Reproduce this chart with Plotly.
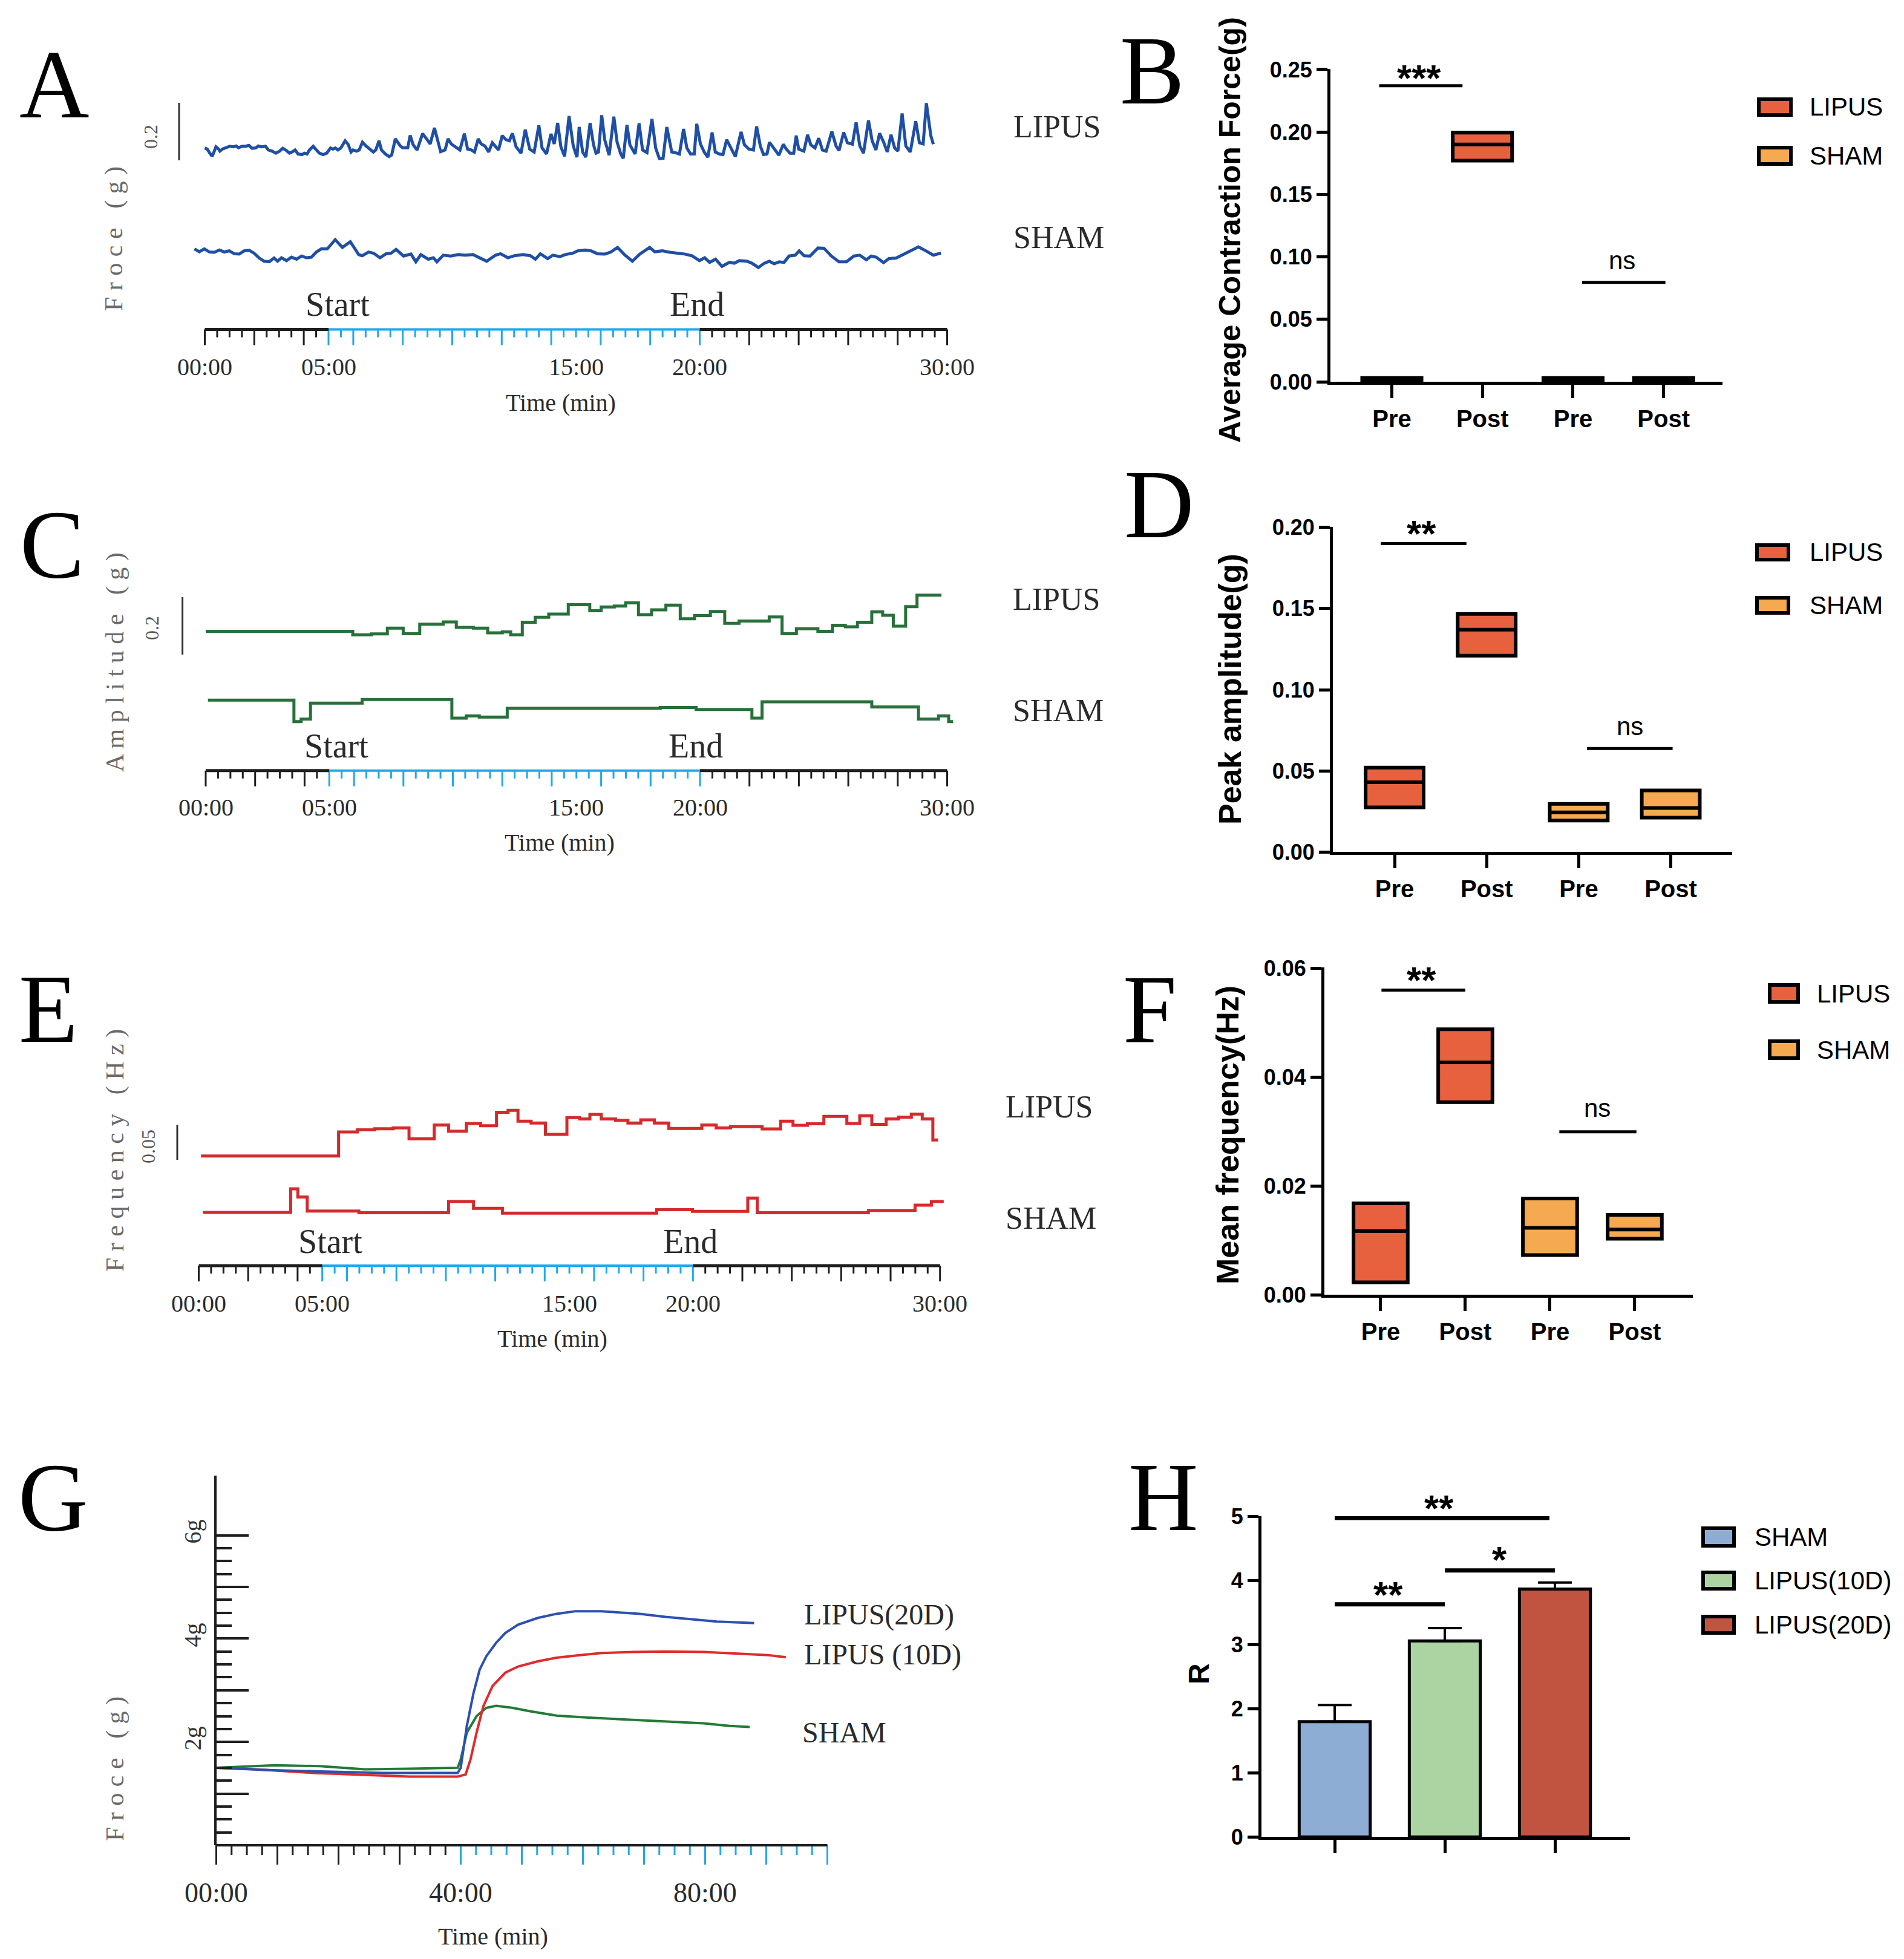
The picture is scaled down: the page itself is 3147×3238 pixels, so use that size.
import numpy as np
import plotly.graph_objects as go

W, H = 3147, 3238
SERIF = "Liberation Serif"
SANS = "Liberation Sans"
INK = "#1e1e1e"
GREY = "#6a6a6a"
SKY = "#1ea8ee"

# ---------------- data ----------------
# A: raw force traces, time in min, force in g (relative to each trace's resting level)
a_lipus_t = [0.00, 0.10, 0.20, 0.30, 0.37, 0.45, 0.56, 0.61, 0.71, 0.86,
             1.01, 1.16, 1.26, 1.36, 1.51, 1.66, 1.78, 1.91, 2.06, 2.16,
             2.29, 2.45, 2.57, 2.72, 2.87, 3.02, 3.15, 3.27, 3.42, 3.52,
             3.65, 3.77, 3.93, 4.03, 4.13, 4.23, 4.38, 4.48, 4.63, 4.78,
             4.93, 5.08, 5.18, 5.28, 5.38, 5.50, 5.67, 5.79, 5.91, 5.99,
             6.14, 6.24, 6.37, 6.49, 6.69, 6.81, 6.91, 7.04, 7.14, 7.30,
             7.45, 7.55, 7.70, 7.82, 7.90, 8.00, 8.20, 8.30, 8.42, 8.58,
             8.68, 8.80, 8.96, 9.11, 9.28, 9.41, 9.53, 9.71, 9.83, 9.96,
             10.11, 10.31, 10.49, 10.62, 10.77, 10.90, 11.05, 11.17, 11.32, 11.47,
             11.62, 11.72, 11.87, 12.02, 12.17, 12.31, 12.43, 12.58, 12.78, 12.95,
             13.13, 13.31, 13.50, 13.63, 13.81, 13.99, 14.12, 14.26, 14.39, 14.54,
             14.72, 14.89, 15.04,
             15.13, 15.27, 15.40, 15.57, 15.71, 15.81, 15.91, 16.04, 16.16, 16.34,
             16.53, 16.66, 16.81, 16.91, 17.06, 17.18, 17.39, 17.55, 17.69, 17.87,
             18.07, 18.22, 18.37, 18.52, 18.67, 18.87, 19.08, 19.18, 19.35, 19.48,
             19.63, 19.78, 19.88, 20.03, 20.18, 20.33, 20.50, 20.63, 20.79, 20.94,
             21.09, 21.29, 21.44, 21.67, 21.81, 21.99, 22.17, 22.30, 22.45, 22.58,
             22.72, 22.82, 22.95, 23.05, 23.20, 23.38, 23.50, 23.65, 23.80, 23.90,
             24.00, 24.21, 24.36, 24.49, 24.66, 24.81, 24.96, 25.11, 25.34, 25.51,
             25.63, 25.82, 25.97, 26.17, 26.32, 26.47, 26.62, 26.82, 26.97, 27.12,
             27.27, 27.43, 27.58, 27.73, 27.88, 28.01, 28.18, 28.33, 28.51, 28.73,
             28.88, 29.03, 29.16, 29.34, 29.44]
a_lipus_g = [0.000, -0.004, -0.018, -0.029, -0.014, 0.004, -0.004, -0.011, -0.004, 0.000,
             0.006, 0.004, 0.007, 0.001, 0.006, 0.006, 0.009, -0.001, 0.000, 0.007,
             0.004, 0.006, -0.007, -0.011, -0.018, -0.011, -0.001, -0.007, -0.018, -0.014,
             -0.007, -0.021, -0.023, -0.018, -0.021, -0.007, 0.006, -0.004, -0.018, -0.023,
             -0.018, 0.000, -0.004, 0.000, -0.007, 0.000, 0.025, 0.013, -0.014, -0.007,
             -0.011, -0.007, 0.020, 0.009, -0.004, -0.014, -0.007, 0.025, -0.007, -0.021,
             -0.030, -0.025, 0.032, 0.014, 0.007, 0.001, 0.001, 0.044, 0.011, -0.007,
             0.021, 0.050, 0.032, 0.014, 0.070, 0.021, -0.013, -0.007, 0.032, 0.014,
             0.004, -0.007, 0.050, -0.004, -0.007, -0.014, 0.032, 0.014, 0.007, -0.014,
             0.018, 0.007, -0.007, 0.043, 0.029, 0.025, 0.051, 0.004, -0.018, 0.064,
             -0.004, -0.014, 0.079, 0.000, -0.021, 0.049, 0.014, 0.087, 0.004, -0.029,
             0.111, 0.007, -0.032,
             0.073, -0.014, -0.032, 0.087, 0.011, -0.018, -0.014, 0.114, 0.029, -0.025,
             0.109, 0.021, -0.021, -0.036, 0.080, 0.011, -0.021, 0.086, -0.007, -0.016,
             0.101, 0.000, -0.037, -0.036, 0.073, -0.014, -0.018, -0.021, 0.066, 0.000,
             -0.021, -0.021, 0.084, 0.014, -0.014, -0.032, 0.054, -0.014, -0.021, -0.023,
             0.029, -0.007, -0.030, 0.056, 0.011, -0.004, -0.007, 0.075, 0.007, -0.023,
             -0.021, 0.020, 0.004, -0.004, -0.025, 0.013, -0.004, -0.018, -0.018, 0.043,
             -0.004, -0.011, 0.046, 0.011, 0.000, 0.034, -0.007, -0.011, 0.057, 0.007,
             -0.009, 0.054, 0.018, 0.013, 0.089, 0.007, -0.018, 0.096, 0.025, -0.007,
             0.051, 0.021, -0.014, 0.046, 0.000, -0.011, 0.120, 0.007, -0.014, 0.093,
             0.018, 0.014, 0.156, 0.043, 0.013]
a_sham_t = [-0.42, -0.22, -0.02, 0.19, 0.39, 0.59, 0.79, 0.99, 1.19, 1.39,
            1.59, 1.79, 1.99, 2.20, 2.40, 2.60, 2.80, 2.94, 3.10, 3.30,
            3.50, 3.71, 3.91, 4.11, 4.31, 4.51, 4.71, 4.95, 5.27, 5.56,
            5.88, 6.22, 6.36, 6.62, 6.82, 7.08, 7.33, 7.53, 7.73, 8.03,
            8.33, 8.53, 8.73, 9.03, 9.24, 9.38, 9.64, 9.94, 10.24, 10.54,
            10.84, 11.15, 11.39, 11.75, 11.95, 12.25, 12.51, 12.86, 13.16, 13.36,
            13.56, 13.86, 14.06, 14.36, 14.56, 14.87, 15.07, 15.37, 15.61, 15.87,
            16.17, 16.41, 16.68, 16.98, 17.28, 17.58, 17.78, 17.98, 18.18, 18.49,
            18.79, 19.09, 19.39, 19.69, 19.99, 20.20, 20.40, 20.64, 20.90, 21.20,
            21.40, 21.60, 21.91, 22.11, 22.37, 22.61, 22.81, 23.01, 23.21, 23.41,
            23.61, 23.86, 24.02, 24.22, 24.46, 24.78, 25.02, 25.32, 25.63, 25.93,
            26.23, 26.47, 26.73, 26.93, 27.13, 27.43, 27.64, 27.94, 28.24, 28.54,
            28.84, 29.14, 29.44, 29.75]
a_sham_g = [0.011, 0.001, 0.011, 0.000, -0.001, 0.007, 0.000, 0.004, -0.006, -0.007,
            0.004, 0.006, -0.004, -0.021, -0.032, -0.034, -0.021, -0.032, -0.020, -0.030,
            -0.018, -0.025, -0.014, -0.020, -0.018, 0.000, 0.011, 0.011, 0.043, 0.016,
            0.036, -0.009, -0.013, 0.000, -0.004, -0.020, -0.006, -0.004, 0.009, -0.014,
            -0.007, -0.034, -0.009, -0.025, -0.020, -0.034, -0.011, -0.014, -0.009, -0.011,
            -0.009, -0.021, -0.032, -0.011, -0.006, -0.020, -0.013, -0.009, -0.013, -0.025,
            -0.006, -0.023, -0.011, -0.016, -0.009, -0.004, 0.004, 0.007, 0.004, -0.006,
            -0.007, 0.000, 0.016, -0.011, -0.032, -0.007, 0.004, 0.016, 0.001, 0.004,
            -0.001, -0.004, -0.007, -0.013, -0.030, -0.020, -0.036, -0.025, -0.050, -0.036,
            -0.039, -0.030, -0.032, -0.039, -0.054, -0.039, -0.032, -0.041, -0.034, -0.036,
            -0.014, -0.011, 0.004, -0.013, -0.014, 0.014, 0.013, -0.014, -0.034, -0.034,
            -0.014, -0.011, -0.027, -0.014, -0.018, -0.037, -0.023, -0.021, -0.007, 0.007,
            0.018, 0.004, -0.011, -0.004]

# C: peak amplitude, step traces (start of each step, min / g)
c_lipus_t = [0.00, 5.95, 6.71, 7.35, 7.99, 8.66, 9.61, 10.14, 10.83, 11.41,
             12.00, 12.34, 12.81, 13.33, 13.88, 14.67, 15.54, 16.00, 16.53, 16.99,
             17.51, 18.04, 18.62, 19.20, 19.78, 20.42, 21.00, 21.58, 22.80, 23.32,
             23.90, 24.77, 25.36, 25.88, 26.37, 26.95, 27.39, 27.82, 28.32, 28.78, 29.77]
c_lipus_g = [0.000, -0.012, -0.009, 0.011, -0.008, 0.025, 0.033, 0.014, 0.011, -0.005,
             -0.002, -0.012, 0.032, 0.049, 0.060, 0.093, 0.072, 0.085, 0.088, 0.099,
             0.058, 0.075, 0.091, 0.044, 0.055, 0.069, 0.028, 0.036, 0.050, -0.008,
             0.009, 0.000, 0.021, 0.016, 0.032, 0.068, 0.056, 0.018, 0.086, 0.126, 0.126]
c_sham_t = [0.09, 3.57, 3.86, 4.24, 6.33, 9.96, 10.54, 11.07, 12.20, 18.39,
            19.84, 22.10, 22.51, 26.95, 28.84, 29.65, 30.06, 30.24]
c_sham_g = [0.000, -0.075, -0.066, -0.011, 0.002, -0.063, -0.055, -0.059, -0.028, -0.026,
            -0.033, -0.063, -0.006, -0.024, -0.066, -0.055, -0.075, -0.075]

# E: frequency, step traces (min / Hz)
e_lipus_t = [0.09, 5.66, 6.42, 7.12, 7.87, 8.51, 9.53, 10.11, 10.83, 11.41,
             12.05, 12.52, 12.92, 13.45, 14.03, 14.90, 15.42, 15.83, 16.29, 16.87,
             17.37, 17.89, 18.44, 19.02, 20.36, 20.94, 21.52, 22.80, 23.55, 24.05,
             24.63, 25.30, 26.23, 26.75, 27.24, 27.82, 28.32, 28.84, 29.28, 29.71, 29.92]
e_lipus_hz = [0.0000, 0.0342, 0.0373, 0.0388, 0.0400, 0.0246, 0.0442, 0.0354, 0.0462, 0.0431,
              0.0623, 0.0650, 0.0496, 0.0469, 0.0308, 0.0546, 0.0527, 0.0592, 0.0527, 0.0508,
              0.0469, 0.0515, 0.0469, 0.0392, 0.0442, 0.0400, 0.0419, 0.0385, 0.0496, 0.0438,
              0.0458, 0.0565, 0.0462, 0.0573, 0.0450, 0.0527, 0.0554, 0.0596, 0.0527, 0.0227, 0.0227]
e_sham_t = [0.17, 3.72, 4.01, 4.39, 6.48, 10.11, 11.12, 12.29, 18.53, 19.98,
            22.22, 22.60, 27.10, 28.99, 29.65, 30.15]
e_sham_hz = [0.0000, 0.0335, 0.0219, 0.0019, -0.0004, 0.0154, 0.0058, -0.0012, 0.0038, 0.0015,
             0.0204, -0.0004, 0.0027, 0.0104, 0.0154, 0.0154]

# G: tension curves (min / g)
g20_t = [0, 8.6, 17.0, 27.4, 39.5, 40.0, 41.0, 42.1, 43.1, 44.2, 45.8, 47.3, 49.4,
         52.6, 55.7, 58.8, 63.0, 66.2, 69.3, 73.5, 77.7, 81.9, 88.0]
g20_g = [1.50, 1.455, 1.43, 1.40, 1.40, 1.50, 2.31, 2.95, 3.40, 3.66, 3.92, 4.11, 4.27,
         4.40, 4.48, 4.53, 4.53, 4.51, 4.48, 4.42, 4.37, 4.33, 4.30]
g10_t = [0, 6.5, 15.9, 23.2, 31.6, 39.5, 40.8, 41.6, 42.6, 43.7, 45.2, 47.3, 49.4,
         52.6, 55.7, 58.8, 63.0, 68.3, 73.5, 79.8, 85.0, 90.3, 93.2]
g10_g = [1.50, 1.47, 1.40, 1.37, 1.33, 1.33, 1.37, 1.66, 2.18, 2.69, 3.08, 3.34, 3.46,
         3.56, 3.63, 3.67, 3.72, 3.74, 3.75, 3.74, 3.71, 3.68, 3.64]
gsh_t = [0, 6.5, 9.6, 17.0, 24.3, 31.6, 39.5, 40.0, 41.0, 42.6, 44.2, 45.8, 48.4,
         51.5, 55.7, 60.9, 67.2, 73.5, 79.8, 84.0, 87.3]
gsh_g = [1.50, 1.53, 1.55, 1.53, 1.47, 1.48, 1.50, 1.66, 2.18, 2.50, 2.66, 2.70, 2.66,
         2.59, 2.51, 2.47, 2.43, 2.40, 2.36, 2.31, 2.29]

# B, D, F: floating bars (min, mean, max) for Pre / Post
phases = ["Pre", "Post", "Pre", "Post"]
b_lipus = dict(low=[0.000, 0.177], mid=[0.0015, 0.190], high=[0.003, 0.1995])
b_sham = dict(low=[0.000, 0.000], mid=[0.0015, 0.0015], high=[0.003, 0.003])
d_lipus = dict(low=[0.0275, 0.121], mid=[0.043, 0.137], high=[0.052, 0.1467])
d_sham = dict(low=[0.0194, 0.0212], mid=[0.0245, 0.0272], high=[0.0297, 0.038])
f_lipus = dict(low=[0.0023, 0.0354], mid=[0.0117, 0.0427], high=[0.0168, 0.0488])
f_sham = dict(low=[0.0073, 0.0103], mid=[0.0123, 0.0120], high=[0.0177, 0.0147])

# H: R value, mean and SEM
h_groups = ["SHAM", "LIPUS(10D)", "LIPUS(20D)"]
h_mean = [1.80, 3.06, 3.87]
h_sem = [0.26, 0.20, 0.10]

time_ticks = [0, 5, 15, 20, 30]
time_text = ["00:00", "05:00", "15:00", "20:00", "30:00"]
g_ticks = [0, 40, 80]
g_text = ["00:00", "40:00", "80:00"]

LIPUS_C = "#e8613f"
SHAM_C = "#f5aa52"
H_COLORS = ["#8dadd5", "#acd4a2", "#c05440"]

# ---------------- helpers ----------------
def fx(x):
    return x / W

def fy(y):
    return 1 - y / H

def xname(i):
    return "xaxis" if i == 1 else f"xaxis{i}"

def yname(i):
    return "yaxis" if i == 1 else f"yaxis{i}"

def xid(i):
    return "x" if i == 1 else f"x{i}"

def yid(i):
    return "y" if i == 1 else f"y{i}"

fig = go.Figure()
layout = dict(width=W, height=H, margin=dict(l=0, r=0, t=0, b=0, pad=0, autoexpand=False),
              paper_bgcolor="white", plot_bgcolor="rgba(0,0,0,0)",
              showlegend=False, boxmode="overlay")
anns = []
shapes = []


def line(x, y, ax, color, width, shape="linear"):
    fig.add_trace(go.Scatter(x=x, y=y, mode="lines", xaxis=xid(ax), yaxis=yid(ax),
                             line=dict(color=color, width=width, shape=shape),
                             hoverinfo="skip"))


def text(s, x, y, size, angle=0, anchor="center", color=INK, family=SERIF,
         weight="normal", xref="paper"):
    anns.append(dict(text=s, x=fx(x) if xref == "paper" else x, y=fy(y),
                     xref=xref, yref="paper", showarrow=False, textangle=angle,
                     xanchor=anchor, yanchor="middle",
                     font=dict(family=family, size=size, color=color, weight=weight)))


def ruler_axes(rx, xd, xr, line_px):
    layout[xname(rx)] = dict(domain=xd, range=xr, anchor=yid(rx), visible=False, automargin=False)
    layout[yname(rx)] = dict(domain=[fy(line_px + 40), fy(line_px - 10)], range=[-40, 10],
                             anchor=xid(rx), visible=False, automargin=False)


def ruler(rx, ticks, major, blue, parts, major_len, minor_len):
    for color, sel in ((INK, ~blue), (SKY, blue)):
        xs, ys = [], []
        for t, m in zip(ticks[sel], major[sel]):
            xs += [t, t, None]
            ys += [0, -(major_len if m else minor_len), None]
        line(xs, ys, rx, color, 3)
    for t0, t1, color, w in parts:
        line([t0, t1], [0, 0], rx, color, w)


# ---------------- left: A, C, E ----------------
left = {
    "A": dict(ax=1, rx=2, x0=338.5, ppm=40.9, base=244.6, unit=475.0, top=140, bot=480, line=544.6),
    "C": dict(ax=3, rx=4, x0=340.0, ppm=40.85, base=1043.6, unit=475.0, top=930, bot=1230, line=1273.8),
    "E": dict(ax=5, rx=6, x0=328.5, ppm=40.84, base=1910.7, unit=1160.0, top=1780, bot=2050, line=2092.0),
}
T_LO, T_HI = -1.5, 31.0
for p in left.values():
    xd = [fx(p["x0"] + T_LO * p["ppm"]), fx(p["x0"] + T_HI * p["ppm"])]
    layout[xname(p["ax"])] = dict(domain=xd, range=[T_LO, T_HI], anchor=yid(p["ax"]),
                                  visible=False, automargin=False)
    layout[yname(p["ax"])] = dict(domain=[fy(p["bot"]), fy(p["top"])],
                                  range=[(p["base"] - p["bot"]) / p["unit"],
                                         (p["base"] - p["top"]) / p["unit"]],
                                  anchor=xid(p["ax"]), visible=False, automargin=False)
    ruler_axes(p["rx"], xd, [T_LO, T_HI], p["line"])
    tk = np.arange(0, 30.001, 0.5)
    major = (tk % 2 == 0) | (tk == 5) | (tk == 20)
    blue = (tk >= 5) & (tk <= 20)
    ruler(p["rx"], tk, major, blue, [(0, 5, INK, 5), (5, 20, SKY, 4), (20, 30, INK, 5)], 26, 13)

# traces (SHAM trace resting level sits below the LIPUS one)
A_SHAM_LEVEL, C_SHAM_LEVEL, E_SHAM_LEVEL = -0.362, -0.239, -0.0804
line(a_lipus_t, a_lipus_g, 1, "#1f4fa5", 5)
line(a_sham_t, [v + A_SHAM_LEVEL for v in a_sham_g], 1, "#1f4fa5", 5)
line(c_lipus_t, c_lipus_g, 3, "#27703a", 5, "hv")
line(c_sham_t, [v + C_SHAM_LEVEL for v in c_sham_g], 3, "#27703a", 5, "hv")
line(e_lipus_t, e_lipus_hz, 5, "#d42a2c", 5, "hv")
line(e_sham_t, [v + E_SHAM_LEVEL for v in e_sham_hz], 5, "#d42a2c", 5, "hv")

# scale bars: 0.2 g, 0.2 g, 0.05 Hz
line([-1.04, -1.04], [-0.043, -0.043 + 0.2], 1, "#333333", 3)
line([-0.94, -0.94], [-0.081, -0.081 + 0.2], 3, "#333333", 3)
line([-0.87, -0.87], [-0.0054, -0.0054 + 0.05], 5, "#333333", 3)

left_text = [
    (2, 607, (927, 665), (558, 503), (1152, 503), (1673, 210), (1673, 392),
     "F r o c e \u00a0 ( g )", (188, 395), "0.2", (249, 226)),
    (4, 1334, (925, 1393), (556, 1233), (1150, 1233), (1672, 991), (1672, 1175),
     "A m p l i t u d e \u00a0 ( g )", (190, 1095), "0.2", (251, 1038)),
    (6, 2154, (913, 2212), (546, 2052), (1141, 2052), (1660, 1829), (1660, 2013),
     "F r e q u e n c y \u00a0 ( H z )", (190, 1902), "0.05", (245, 1895)),
]
for rx, ly, tt, st, en, lp, sh, yt, ytp, sl, slp in left_text:
    for t, s in zip(time_ticks, time_text):
        text(s, t, ly, 40, xref=xid(rx), color="#2a2a2a")
    text("Time (min)", tt[0], tt[1], 40, color="#2a2a2a")
    text("Start", st[0], st[1], 56, color="#2a2a2a")
    text("End", en[0], en[1], 56, color="#2a2a2a")
    text("LIPUS", lp[0], lp[1], 52, anchor="left", color="#2a2a2a")
    text("SHAM", sh[0], sh[1], 52, anchor="left", color="#2a2a2a")
    text(yt, ytp[0], ytp[1], 42, angle=-90, color=GREY)
    text(sl, slp[0], slp[1], 32, angle=-90, color="#555555")

# ---------------- G ----------------
G_X0, G_PPM, G_Y0, G_PPG = 357.5, 10.1, 3050.0, 85.4
layout["xaxis7"] = dict(domain=[fx(G_X0), fx(G_X0 + 100 * G_PPM)], range=[0, 100],
                        anchor="y7", visible=False, automargin=False)
layout["yaxis7"] = dict(domain=[fy(G_Y0), fy(G_Y0 - 7.15 * G_PPG)], range=[0, 7.15],
                        anchor="x7", showline=True, linecolor=INK, linewidth=4,
                        ticks="inside", tickvals=[1, 2, 3, 4, 5, 6],
                        ticktext=["", "2g", "", "4g", "", "6g"],
                        ticklen=53, tickwidth=4, tickcolor=INK,
                        minor=dict(ticks="inside", tickvals=[k * 0.25 for k in range(1, 24) if k % 4],
                                   ticklen=25, tickwidth=4, tickcolor=INK),
                        tickangle=-90, ticklabelstandoff=6, automargin=False,
                        tickfont=dict(family=SERIF, size=40, color="#333333"),
                        showgrid=False, zeroline=False)
ruler_axes(8, [fx(G_X0 - 2 * G_PPM), fx(G_X0 + 102 * G_PPM)], [-2, 102], G_Y0)
tk = np.arange(0, 100.001, 2.5)
ruler(8, tk, tk % 10 == 0, tk >= 40, [(0, 100, INK, 4)], 32, 16)
line(gsh_t, gsh_g, 7, "#237a36", 4)
line(g10_t, g10_g, 7, "#e02a2b", 4)
line(g20_t, g20_g, 7, "#2c4fb2", 4)
for t, s in zip(g_ticks, g_text):
    text(s, t, 3128, 46, xref="x8", color="#2a2a2a")
text("Time (min)", 815, 3200, 40, color="#2a2a2a")
text("F r o c e \u00a0 ( g )", 190, 2924, 42, angle=-90, color=GREY)
text("LIPUS(20D)", 1327, 2669, 48, anchor="left", color="#2a2a2a")
text("LIPUS (10D)", 1327, 2735, 48, anchor="left", color="#2a2a2a")
text("SHAM", 1324, 2863, 48, anchor="left", color="#2a2a2a")

# ---------------- right: B, D, F, H ----------------
right = {
    "B": dict(ax=9, xr=(-0.678, 3.65), xp=(2199, 2847), top=0.25, yp=(631, 113.9),
              yt=[0, 0.05, 0.10, 0.15, 0.20, 0.25], fmt=".2f", bw=0.655),
    "D": dict(ax=10, xr=(-0.671, 3.667), xp=(2203, 2863), top=0.20, yp=(1408.4, 870.6),
              yt=[0, 0.05, 0.10, 0.15, 0.20], fmt=".2f", bw=0.63),
    "F": dict(ax=11, xr=(-0.664, 3.686), xp=(2189, 2798), top=0.06, yp=(2140.2, 1599.4),
              yt=[0, 0.02, 0.04, 0.06], fmt=".2f", bw=0.64),
    "H": dict(ax=12, xr=(-0.665, 2.681), xp=(2085, 2694), top=5, yp=(3036.3, 2505.7),
              yt=[0, 1, 2, 3, 4, 5], fmt="d", bw=0.645),
}
for key, r in right.items():
    ax = r["ax"]
    n = 3 if key == "H" else 4
    layout[xname(ax)] = dict(domain=[fx(r["xp"][0]), fx(r["xp"][1])], range=list(r["xr"]),
                             anchor=yid(ax), showline=True, linecolor="black", linewidth=5,
                             ticks="outside", ticklen=22, tickwidth=5, tickcolor="black",
                             tickvals=list(range(n)),
                             ticktext=phases if key != "H" else ["", "", ""],
                             showticklabels=key != "H", automargin=False,
                             tickfont=dict(family=SANS, size=40, color="black", weight="bold"),
                             showgrid=False, zeroline=False)
    layout[yname(ax)] = dict(domain=[fy(r["yp"][0]), fy(r["yp"][1])], range=[0, r["top"] * 1.002],
                             anchor=xid(ax), showline=True, linecolor="black", linewidth=5,
                             ticks="outside", ticklen=18, tickwidth=5, tickcolor="black",
                             tickvals=r["yt"], tickformat=r["fmt"], automargin=False,
                             tickfont=dict(family=SANS, size=36, color="black", weight="bold"),
                             showgrid=False, zeroline=False)


def float_bars(ax, x, s, color, bw):
    fig.add_trace(go.Box(x=x, q1=s["low"], median=s["mid"], q3=s["high"],
                         lowerfence=s["low"], upperfence=s["high"], orientation="v",
                         width=bw, fillcolor=color, line=dict(color="black", width=6),
                         whiskerwidth=0, boxpoints=False, xaxis=xid(ax), yaxis=yid(ax),
                         hoverinfo="skip"))


float_bars(9, [0, 1], b_lipus, LIPUS_C, right["B"]["bw"])
float_bars(9, [2, 3], b_sham, SHAM_C, right["B"]["bw"])
float_bars(10, [0, 1], d_lipus, LIPUS_C, right["D"]["bw"])
float_bars(10, [2, 3], d_sham, SHAM_C, right["D"]["bw"])
float_bars(11, [0, 1], f_lipus, LIPUS_C, right["F"]["bw"])
float_bars(11, [2, 3], f_sham, SHAM_C, right["F"]["bw"])

fig.add_trace(go.Bar(x=[0, 1, 2], y=h_mean, width=right["H"]["bw"], marker_color=H_COLORS,
                     marker_line=dict(color="black", width=5),
                     error_y=dict(type="data", array=h_sem, arrayminus=[0, 0, 0], symmetric=False,
                                  color="black", thickness=4, width=28),
                     xaxis="x12", yaxis="y12", hoverinfo="skip"))

# significance brackets: (axis, from, to, level, width)
brackets = [(9, -0.14, 0.78, 0.237, 5), (9, 2.10, 3.02, 0.0796, 5),
            (10, -0.15, 0.78, 0.190, 5), (10, 2.09, 3.02, 0.0638, 5),
            (11, 0.01, 1.00, 0.056, 5), (11, 2.11, 3.02, 0.02995, 5),
            (12, 0.00, 1.95, 4.98, 7), (12, 1.00, 2.00, 4.16, 7), (12, 0.00, 1.00, 3.63, 7)]
for ax, a, b, lv, w in brackets:
    line([a, b], [lv, lv], ax, "black", w)

stars = [("***", 2345, 128), ("**", 2349, 882), ("**", 2349, 1620),
         ("**", 2378, 2492), ("*", 2478, 2577), ("**", 2294, 2635)]
for s, x, y in stars:
    text(s, x, y, 62, family=SANS, weight="bold", color="black")
for x, y in [(2681, 430), (2694, 1201), (2640, 1831)]:
    text("ns", x, y, 42, family=SANS, color="black")

# axis titles
text("Average Contraction Force(g)", 2033, 380, 50, angle=-90, family=SANS, weight="bold", color="black")
text("Peak amplitude(g)", 2033, 1139, 52, angle=-90, family=SANS, weight="bold", color="black")
text("Mean frequency(Hz)", 2029, 1876, 52, angle=-90, family=SANS, weight="bold", color="black")
text("R", 1981, 2767, 48, angle=-90, family=SANS, weight="bold", color="black")


# legends
def swatch(x0, x1, y0, y1, color):
    shapes.append(dict(type="rect", xref="paper", yref="paper", x0=fx(x0), x1=fx(x1),
                       y0=fy(y1), y1=fy(y0), fillcolor=color,
                       line=dict(color="black", width=6)))


legends = [
    (2907, 2960, 2989, [("LIPUS", 164, 190, LIPUS_C), ("SHAM", 244, 271, SHAM_C)]),
    (2904, 2956, 2989, [("LIPUS", 901, 925, LIPUS_C), ("SHAM", 988, 1013, SHAM_C)]),
    (2925, 2972, 3001, [("LIPUS", 1628, 1656, LIPUS_C), ("SHAM", 1721, 1749, SHAM_C)]),
    (2815, 2866, 2898, [(g, y0, y1, c) for g, (y0, y1), c in
                        zip(h_groups, [(2526, 2555), (2599, 2626), (2672, 2699)], H_COLORS)]),
]
for x0, x1, tx, items in legends:
    for name, y0, y1, c in items:
        swatch(x0, x1, y0, y1, c)
        text(name, tx, (y0 + y1) / 2, 42, anchor="left", family=SANS, color="black")

# panel letters
for s, x, y in [("A", 90, 140), ("B", 1904, 117), ("C", 86, 900), ("D", 1916, 834),
                ("E", 80, 1668), ("F", 1900, 1669), ("G", 88, 2475), ("H", 1923, 2475)]:
    text(s, x, y, 160, color="black")

layout["annotations"] = anns
layout["shapes"] = shapes
fig.update_layout(**layout)
fig.write_html("out.html", config={"displayModeBar": False},
               post_script="document.body.style.margin='0';")
